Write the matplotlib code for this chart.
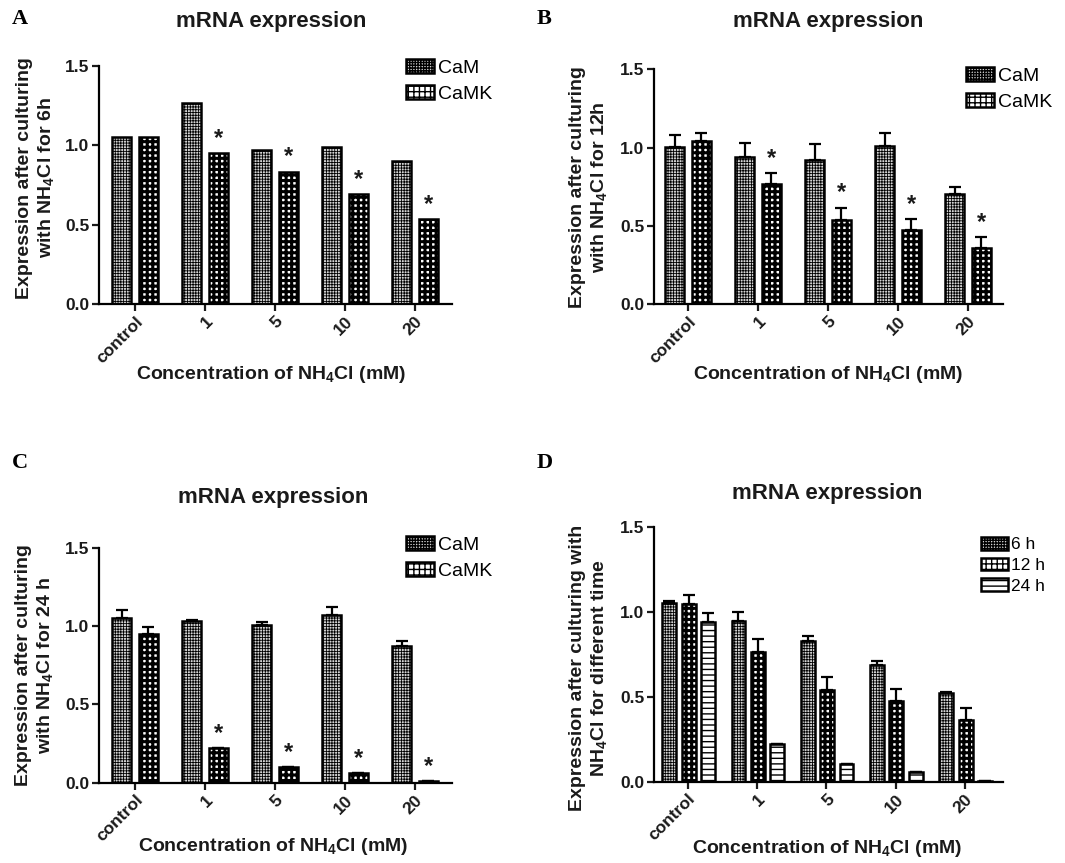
import numpy as np
import matplotlib as mpl
mpl.use('Agg')
import matplotlib.pyplot as plt

plt.rcParams['font.family'] = ['Liberation Sans', 'DejaVu Sans']
plt.rcParams['mathtext.fontset'] = 'custom'
plt.rcParams['mathtext.rm'] = 'Liberation Sans:bold'
plt.rcParams['mathtext.bf'] = 'Liberation Sans:bold'
plt.rcParams['hatch.linewidth'] = 1.0

# ---- data ----
categories = ['control', '1', '5', '10', '20']

# A: 6 h
cam_6h = [1.055, 1.265, 0.97, 0.99, 0.90]
camk_6h = [1.055, 0.95, 0.834, 0.693, 0.534]

# B: 12 h
cam_12h = [1.006, 0.938, 0.921, 1.01, 0.702]
cam_12h_err = [0.075, 0.09, 0.102, 0.081, 0.049]
camk_12h = [1.043, 0.768, 0.538, 0.474, 0.357]
camk_12h_err = [0.053, 0.072, 0.079, 0.071, 0.071]

# C: 24 h
cam_24h = [1.053, 1.032, 1.006, 1.07, 0.872]
cam_24h_err = [0.049, 0.006, 0.022, 0.053, 0.032]
camk_24h = [0.947, 0.219, 0.098, 0.06, 0.011]
camk_24h_err = [0.049, 0.0, 0.0, 0.0, 0.0]

# D: CaMK at different times
d_6h = [1.049, 0.945, 0.827, 0.686, 0.524]
d_6h_err = [0.016, 0.055, 0.032, 0.024, 0.004]
d_12h = [1.043, 0.765, 0.539, 0.476, 0.363]
d_12h_err = [0.055, 0.074, 0.079, 0.067, 0.068]
d_24h = [0.941, 0.22, 0.102, 0.059, 0.006]
d_24h_err = [0.053, 0.0, 0.0, 0.0, 0.0]

stars_camk = [False, True, True, True, True]

TXT = '#1a1a1a'
W, H = 1065, 863
fig = plt.figure(figsize=(W / 100, H / 100), dpi=100)


def px_axes(left, top, right, bottom):
    return fig.add_axes([left / W, 1 - bottom / H, (right - left) / W, (bottom - top) / H])


def style_axes(ax, xlim, ylabel, xlab_pos, ylab_pos):
    ax.set_xlim(*xlim)
    ax.set_ylim(0, 1.5)
    ax.set_yticks([0, 0.5, 1.0, 1.5])
    ax.set_yticklabels(['0.0', '0.5', '1.0', '1.5'])
    ax.set_xticks(np.arange(len(categories)))
    ax.set_xticklabels(categories, rotation=45, ha='right', va='top', rotation_mode='anchor')
    for s in ['top', 'right']:
        ax.spines[s].set_visible(False)
    for s in ['left', 'bottom']:
        ax.spines[s].set_linewidth(1.6)
    ax.tick_params(width=1.6, length=5, labelsize=12.5, pad=2, colors=TXT)
    for lab in ax.get_xticklabels() + ax.get_yticklabels():
        lab.set_fontweight('bold')
    ax.set_xlabel(r'Concentration of NH$_4$Cl (mM)', fontsize=14, fontweight='bold', color=TXT)
    ax.set_ylabel(ylabel, fontsize=14, fontweight='bold', color=TXT, linespacing=1.25)
    ax.xaxis.set_label_coords(*xlab_pos)
    ax.xaxis.label.set_va('center')
    ax.yaxis.set_label_coords(*ylab_pos)
    ax.yaxis.label.set_va('center')


def bars(ax, x, vals, errs, hatch, hlw, width, face='white'):
    b = ax.bar(x, vals, width, color=face, edgecolor='black', linewidth=1.8, hatch=hatch)
    for p in b.patches:
        if hasattr(p, 'set_hatch_linewidth'):
            p.set_hatch_linewidth(hlw)
    if errs is not None:
        ax.errorbar(x, vals, yerr=[np.zeros(len(vals)), errs], fmt='none', ecolor='black',
                    elinewidth=1.6, capsize=4, capthick=1.6, zorder=3)
    return b


def stars(ax, x, tops):
    for xi, t, s in zip(x, tops, stars_camk):
        if s:
            ax.text(xi, t + 0.02, '*', ha='center', va='bottom', fontsize=17,
                    fontweight='bold', color=TXT)


HATCH_CAM = '++++++'
CAM_FACE = '#d4d4d4'
HATCH_CAMK = '+++'
x = np.arange(len(categories))


def two_series_panel(box, xlim, cam, cam_err, camk, camk_err, ylabel, xlab_pos, ylab_pos, leg_anchor):
    ax = px_axes(*box)
    b1 = bars(ax, x - 0.19, cam, cam_err, HATCH_CAM, 0.6, 0.27, CAM_FACE)
    b2 = bars(ax, x + 0.19, camk, camk_err, HATCH_CAMK, 2.2, 0.27)
    tops = np.array(camk) + (np.array(camk_err) if camk_err is not None else 0)
    stars(ax, x + 0.19, tops)
    style_axes(ax, xlim, ylabel, xlab_pos, ylab_pos)
    ax.legend([b1, b2], ['CaM', 'CaMK'], loc='upper left',
              bbox_to_anchor=(leg_anchor[0] / W, 1 - leg_anchor[1] / H),
              bbox_transform=fig.transFigure, frameon=False, fontsize=14,
              handlelength=1.45, handleheight=0.72, handletextpad=0.2,
              labelspacing=0.45, borderpad=0, borderaxespad=0)
    return ax


two_series_panel((99, 66, 452, 304), (-0.514, 4.53), cam_6h, None, camk_6h, None,
                 'Expression after culturing\n' + r'with NH$_4$Cl for 6h',
                 (0.487, -0.298), (-0.178, 0.53), (406, 59))
two_series_panel((654, 69.3, 1003, 304.3), (-0.486, 4.5), cam_12h, cam_12h_err, camk_12h, camk_12h_err,
                 'Expression after culturing\n' + r'with NH$_4$Cl for 12h',
                 (0.5, -0.30), (-0.185, 0.5), (966, 67))
two_series_panel((99, 547.7, 452, 782.7), (-0.514, 4.53), cam_24h, cam_24h_err, camk_24h, camk_24h_err,
                 'Expression after culturing\n' + r'with NH$_4$Cl for 24 h',
                 (0.493, -0.272), (-0.18, 0.5), (406, 536))

# D panel
axd = px_axes(654, 526.7, 1003, 781.7)
d1 = bars(axd, x - 0.27, d_6h, d_6h_err, HATCH_CAM, 0.6, 0.2, CAM_FACE)
d2 = bars(axd, x + 0.01, d_12h, d_12h_err, HATCH_CAMK, 2.2, 0.2)
d3 = bars(axd, x + 0.29, d_24h, d_24h_err, '---', 1.0, 0.2)
style_axes(axd, (-0.49, 4.55), 'Expression after culturing with\n' + r'NH$_4$Cl for different time',
           (0.496, -0.26), (-0.185, 0.446))
axd.legend([d1, d2, d3], ['6 h', '12 h', '24 h'], loc='upper left',
           bbox_to_anchor=(981 / W, 1 - 537 / H), bbox_transform=fig.transFigure,
           frameon=False, fontsize=12.5, handlelength=1.55, handleheight=0.75,
           handletextpad=0.2, labelspacing=0.3, borderpad=0, borderaxespad=0)

# titles and panel letters
for cx, cy in [(271, 22), (828, 22), (273, 498), (827, 493)]:
    fig.text(cx / W, 1 - cy / H, 'mRNA expression', ha='center', va='center',
             fontsize=16, fontweight='bold', color=TXT)
for letter, lx, ly in [('A', 12, 19), ('B', 537, 19), ('C', 12, 463), ('D', 537, 463)]:
    fig.text(lx / W, 1 - ly / H, letter, ha='left', va='center', fontsize=16,
             fontweight='bold', family='Liberation Serif', color='black')

fig.savefig('out.png', dpi=100)
